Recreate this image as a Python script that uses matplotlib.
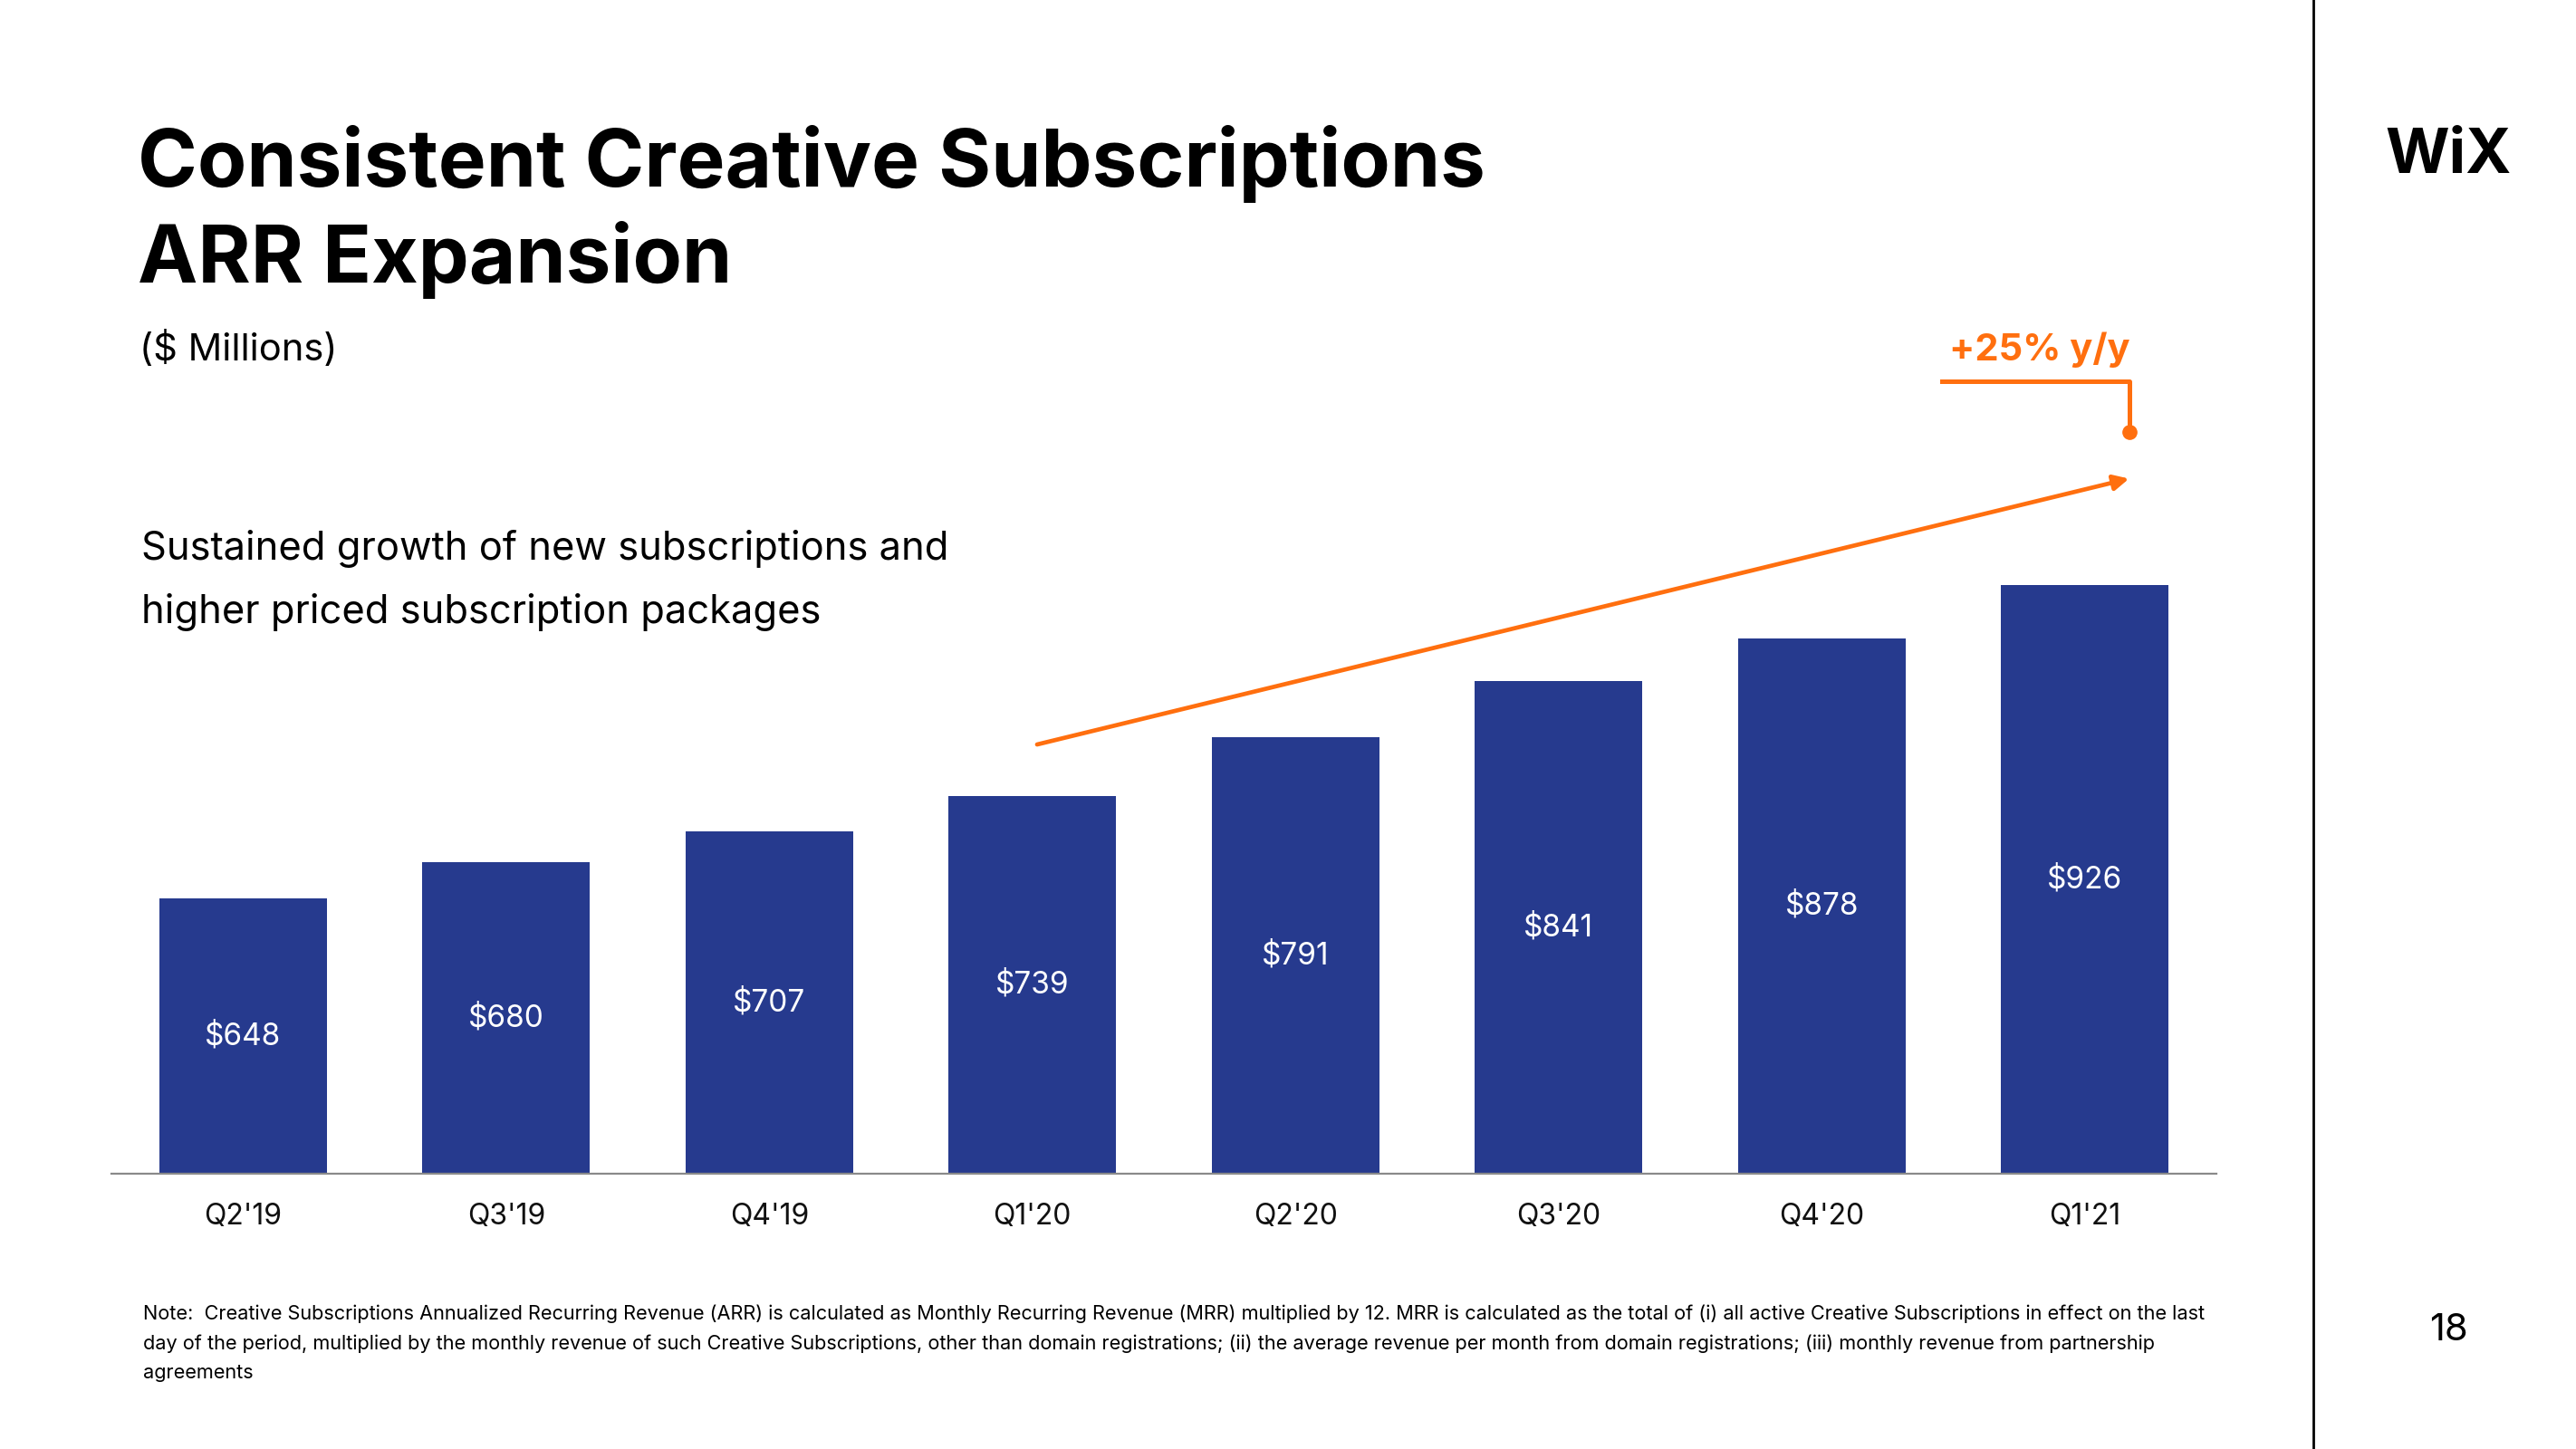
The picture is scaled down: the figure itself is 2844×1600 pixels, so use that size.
import matplotlib
matplotlib.use("Agg")
import matplotlib.pyplot as plt
import numpy as np

plt.rcParams["font.family"] = ["Inter", "DejaVu Sans"]

quarters = ["Q2'19", "Q3'19", "Q4'19", "Q1'20", "Q2'20", "Q3'20", "Q4'20", "Q1'21"]
arr = [648, 680, 707, 739, 791, 841, 878, 926]
value_labels = ["$648", "$680", "$707", "$739", "$791", "$841", "$878", "$926"]

BLUE = "#263A8E"
ORANGE = "#FF6F0F"
W, H = 2844, 1600


def fx(px):
    return px / W


def fy(py):
    return 1 - py / H


fig = plt.figure(figsize=(28.44, 16), dpi=100)
fig.patch.set_facecolor("white")

ax = fig.add_axes([fx(123), fy(1296), fx(2447) - fx(123), 0.4641])
y0 = 404
x = np.arange(len(arr))
ax.bar(x, np.array(arr) - y0, bottom=y0, width=0.637, color=BLUE, zorder=2)
ax.set_xlim(-0.5, 7.5)
ax.set_ylim(y0, 1000)
for s in ["top", "right", "left"]:
    ax.spines[s].set_visible(False)
ax.spines["bottom"].set_color("#8a8a8a")
ax.spines["bottom"].set_linewidth(1.6)
ax.set_yticks([])
ax.set_xticks(x)
ax.set_xticklabels(quarters, fontsize=23, color="#111111")
ax.tick_params(axis="x", length=0, pad=23)

for i, (v, lab) in enumerate(zip(arr, value_labels)):
    ax.text(i, (v + y0) / 2, lab, ha="center", va="center", color="white", fontsize=24)

# trend arrow
ax.annotate("", xy=(7.168, 1020), xytext=(3.018, 784.4),
            arrowprops=dict(arrowstyle="-|>,head_length=1.0,head_width=0.5",
                            color=ORANGE, lw=3.4, shrinkA=0, shrinkB=0),
            annotation_clip=False)

# y/y bracket
fig.add_artist(plt.Line2D([fx(2144), fx(2351), fx(2351)], [fy(421), fy(421), fy(477)],
                          color=ORANGE, lw=3.6, transform=fig.transFigure))
fig.add_artist(plt.Line2D([fx(2351)], [fy(477)], marker="o", markersize=11,
                          color=ORANGE, transform=fig.transFigure))
fig.text(fx(2352), fy(398), "+25% y/y", ha="right", va="baseline",
         fontsize=30, fontweight="bold", color=ORANGE)

# titles
fig.text(fx(152), fy(206), "Consistent Creative Subscriptions", fontsize=64,
         fontweight="bold", va="baseline", color="black")
fig.text(fx(152), fy(312), "ARR Expansion", fontsize=64,
         fontweight="bold", va="baseline", color="black")
fig.text(fx(154), fy(398), "($ Millions)", fontsize=30, va="baseline", color="black")
fig.text(fx(156), fy(618), "Sustained growth of new subscriptions and", fontsize=31.3,
         va="baseline", color="black")
fig.text(fx(156), fy(688), "higher priced subscription packages", fontsize=31.3,
         va="baseline", color="black")

note = ["Note:  Creative Subscriptions Annualized Recurring Revenue (ARR) is calculated as Monthly Recurring Revenue (MRR) multiplied by 12. MRR is calculated as the total of (i) all active Creative Subscriptions in effect on the last",
        "day of the period, multiplied by the monthly revenue of such Creative Subscriptions, other than domain registrations; (ii) the average revenue per month from domain registrations; (iii) monthly revenue from partnership",
        "agreements"]
for k, line in enumerate(note):
    fig.text(fx(158), fy(1457 + 32.5 * k), line, fontsize=15.6, va="baseline", color="black")

# right side panel
fig.add_artist(plt.Line2D([fx(2554), fx(2554)], [0, 1], color="black", lw=2,
                          transform=fig.transFigure))
fig.text(fx(2703), fy(173), "WiX", ha="center", va="center", fontsize=49,
         fontweight="bold", color="black")
fig.text(fx(2703), fy(1469), "18", ha="center", va="center", fontsize=30, color="black")

fig.savefig("out.png", dpi=100, facecolor="white")
